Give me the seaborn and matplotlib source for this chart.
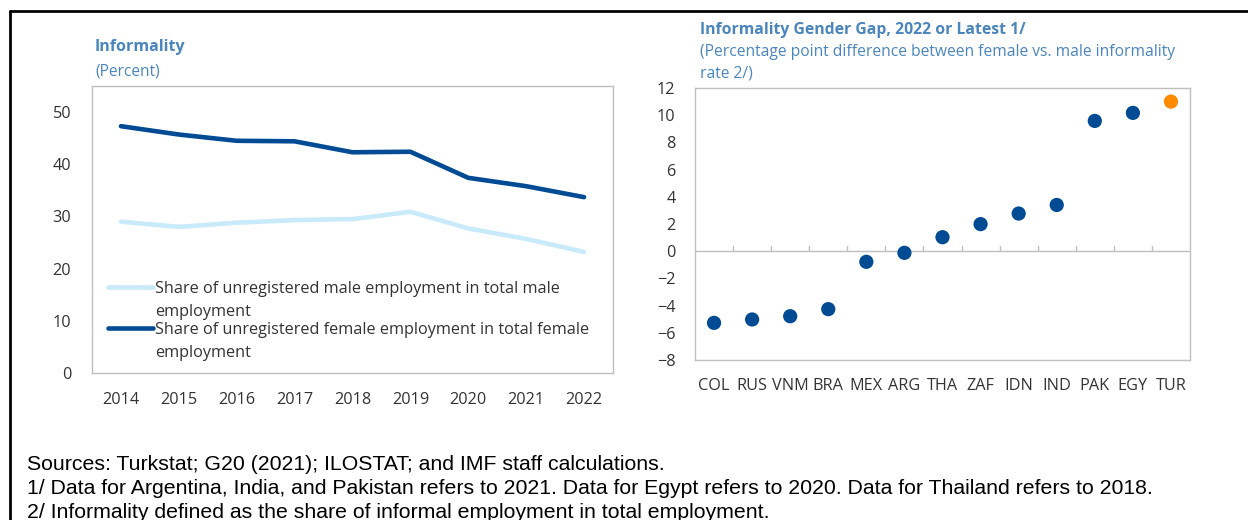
import matplotlib
matplotlib.use("Agg")
import matplotlib.pyplot as plt
import seaborn as sns
import pandas as pd
from matplotlib.lines import Line2D

# Datos
years = ["2014", "2015", "2016", "2017", "2018", "2019", "2020", "2021", "2022"]
male_share = [29.0, 28.0, 28.8, 29.3, 29.5, 30.9, 27.7, 25.7, 23.2]
female_share = [47.3, 45.7, 44.5, 44.4, 42.3, 42.4, 37.4, 35.8, 33.7]

countries = ["COL", "RUS", "VNM", "BRA", "MEX", "ARG", "THA", "ZAF", "IDN", "IND", "PAK", "EGY", "TUR"]
gender_gap = [-5.27, -5.02, -4.78, -4.26, -0.78, -0.12, 1.03, 1.99, 2.77, 3.40, 9.58, 10.17, 11.0]

male_label = "Share of unregistered male employment in total male"
female_label = "Share of unregistered female employment in total female"
label_tail = "employment"

DARK = "#004B93"
LIGHT = "#C8EAFB"
ORANGE = "#FF8C00"
TITLE = "#4A86BD"
TXT = "#333333"
SPINE = "#BFBFBF"
FS = 11.7

sns.set_style("white")
plt.rcParams["font.family"] = ["Open Sans", "DejaVu Sans"]
plt.rcParams["text.color"] = TXT
plt.rcParams["xtick.color"] = TXT
plt.rcParams["ytick.color"] = TXT

fig = plt.figure(figsize=(12.48, 5.2), dpi=100)
W, H = 1248, 520

def px_axes(x0, y0, x1, y1):
    return fig.add_axes([x0 / W, 1 - y1 / H, (x1 - x0) / W, (y1 - y0) / H])

# ---- Panel izquierdo: lineas ----
ax1 = px_axes(92, 86, 613, 373)
df_lines = pd.DataFrame({
    "Year": years * 2,
    "Value": male_share + female_share,
    "Series": [male_label] * len(years) + [female_label] * len(years),
})
sns.lineplot(data=df_lines, x="Year", y="Value", hue="Series",
             palette=[LIGHT, DARK], linewidth=3.3, ax=ax1, sort=False)
ax1.set_xlim(-0.5, len(years) - 0.5)
ax1.set_ylim(0, 55)
ax1.set_yticks([0, 10, 20, 30, 40, 50])
ax1.set_xlabel("")
ax1.set_ylabel("")
ax1.set_xticks(range(len(years)))
ax1.set_xticklabels(years)
ax1.set_xticks([i + 0.5 for i in range(len(years) - 1)], minor=True)
ax1.tick_params(axis="x", which="major", length=0, pad=14, labelsize=FS)
ax1.tick_params(axis="x", which="minor", length=5, direction="in", color=SPINE)
ax1.tick_params(axis="y", length=4, direction="out", color=SPINE, labelsize=FS, pad=11)
for s in ax1.spines.values():
    s.set_color(SPINE)
    s.set_linewidth(1)
leg = ax1.legend(loc="upper left", bbox_to_anchor=(108 / W, 1 - 281 / H),
                 bbox_transform=fig.transFigure, frameon=False,
                 fontsize=FS, handlelength=2.75, handletextpad=0.12,
                 labelspacing=1.53, borderaxespad=0, borderpad=0)
for line in leg.get_lines():
    line.set_linewidth(3.3)

fig.text(95 / W, 1 - 47 / H, "Informality", color=TITLE, fontsize=11.5,
         fontweight="bold", va="center")
fig.text(95 / W, 1 - 71 / H, "(Percent)", color=TITLE, fontsize=11.2, va="center")

# ---- Panel derecho: puntos ----
ax2 = px_axes(695, 88, 1190, 360)
df_gap = pd.DataFrame({"Country": countries, "Gap": gender_gap})
df_gap["Group"] = ["TUR" if c == "TUR" else "Other" for c in countries]
sns.scatterplot(data=df_gap, x="Country", y="Gap", hue="Group",
                palette={"Other": DARK, "TUR": ORANGE}, s=105,
                edgecolor="none", legend=False, ax=ax2)
ax2.set_xlim(-0.5, len(countries) - 0.5)
ax2.set_ylim(-8, 12)
ax2.set_yticks(range(-8, 13, 2))
ax2.set_xlabel("")
ax2.set_ylabel("")
ax2.axhline(0, color=SPINE, linewidth=1, zorder=0)
for i in range(len(countries) - 1):
    ax2.plot([i + 0.5, i + 0.5], [0, 0.37], color=SPINE, linewidth=1, zorder=0)
ax2.tick_params(axis="x", length=0, pad=13, labelsize=FS)
ax2.tick_params(axis="y", length=4, direction="out", color=SPINE, labelsize=FS, pad=10)
for s in ax2.spines.values():
    s.set_color(SPINE)
    s.set_linewidth(1)

fig.text(700 / W, 1 - 30 / H, "Informality Gender Gap, 2022 or Latest 1/",
         color=TITLE, fontsize=11.3, fontweight="bold", va="center")
fig.text(700 / W, 1 - 52 / H,
         "(Percentage point difference between female vs. male informality",
         color=TITLE, fontsize=11.25, va="center")
fig.text(700 / W, 1 - 74 / H, "rate 2/)", color=TITLE, fontsize=11.25, va="center")

# ---- Notas ----
notes = [
    "Sources: Turkstat; G20 (2021); ILOSTAT; and IMF staff calculations.",
    "1/ Data for Argentina, India, and Pakistan refers to 2021. Data for Egypt refers to 2020. Data for Thailand refers to 2018.",
    "2/ Informality defined as the share of informal employment in total employment.",
]
for i, n in enumerate(notes):
    fig.text(27 / W, 1 - (465 + 24 * i) / H, n, fontsize=15.3, color="black",
             family=["Liberation Sans", "DejaVu Sans"], va="center")

# Marco
fig.add_artist(Line2D([10 / W, 1], [1 - 11 / H, 1 - 11 / H], color="black", linewidth=2))
fig.add_artist(Line2D([10 / W, 10 / W], [0, 1 - 11 / H], color="black", linewidth=2))

# Segunda linea de cada etiqueta de la leyenda
fig.canvas.draw()
for t in leg.get_texts():
    bb = t.get_window_extent()
    yc = (bb.y0 + bb.y1) / 2 - 23
    fig.text(bb.x0 / W, yc / H, label_tail, fontsize=FS, va="center")

fig.savefig("out.png", dpi=100)
